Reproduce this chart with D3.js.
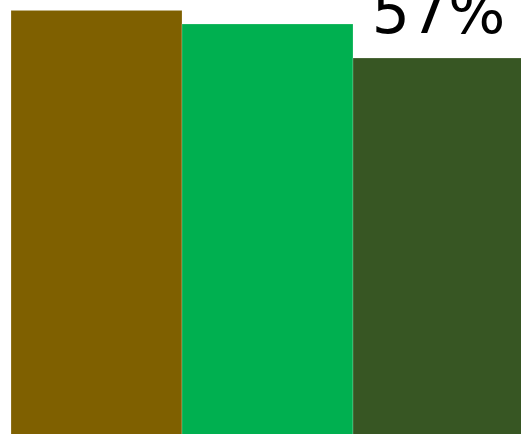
<!DOCTYPE html>
<html>
<head>
<meta charset="utf-8">
<script src="https://cdn.jsdelivr.net/npm/d3@7"></script>
<style>
  html, body { margin: 0; padding: 0; background: #fff; }
  svg { display: block; }
</style>
</head>
<body>
<svg id="chart" width="521" height="434"></svg>
<script>
// Share of respondents by group
const categories = ["A", "B", "C"];
const values = [64, 62, 57];
const colors = ["#7F6000", "#00B050", "#375623"];

const svg = d3.select("#chart");
const width = 521, height = 434;

// Plot area extends past the visible frame on the right and bottom
const x = d3.scaleBand()
  .domain(categories)
  .range([11, 524])
  .padding(0);

const y = d3.scaleLinear()
  .domain([0, 57])
  .range([445.6, 58]);

const g = svg.append("g");

g.selectAll("rect.bar")
  .data(categories)
  .join("rect")
  .attr("class", "bar")
  .attr("x", d => x(d))
  .attr("width", x.bandwidth())
  .attr("y", (d, i) => y(values[i]))
  .attr("height", (d, i) => y(0) - y(values[i]))
  .attr("fill", (d, i) => colors[i])
  .attr("stroke", "rgba(255,255,255,0.35)")
  .attr("stroke-width", 0.6);

g.selectAll("text.label")
  .data(categories)
  .join("text")
  .attr("class", "label")
  .attr("x", d => x(d) + x.bandwidth() / 2)
  .attr("y", (d, i) => y(values[i]) - 25)
  .attr("text-anchor", "middle")
  .attr("font-family", "DejaVu Sans, sans-serif")
  .attr("font-size", 60)
  .attr("fill", "#000")
  .text((d, i) => values[i] + "%");
</script>
</body>
</html>
